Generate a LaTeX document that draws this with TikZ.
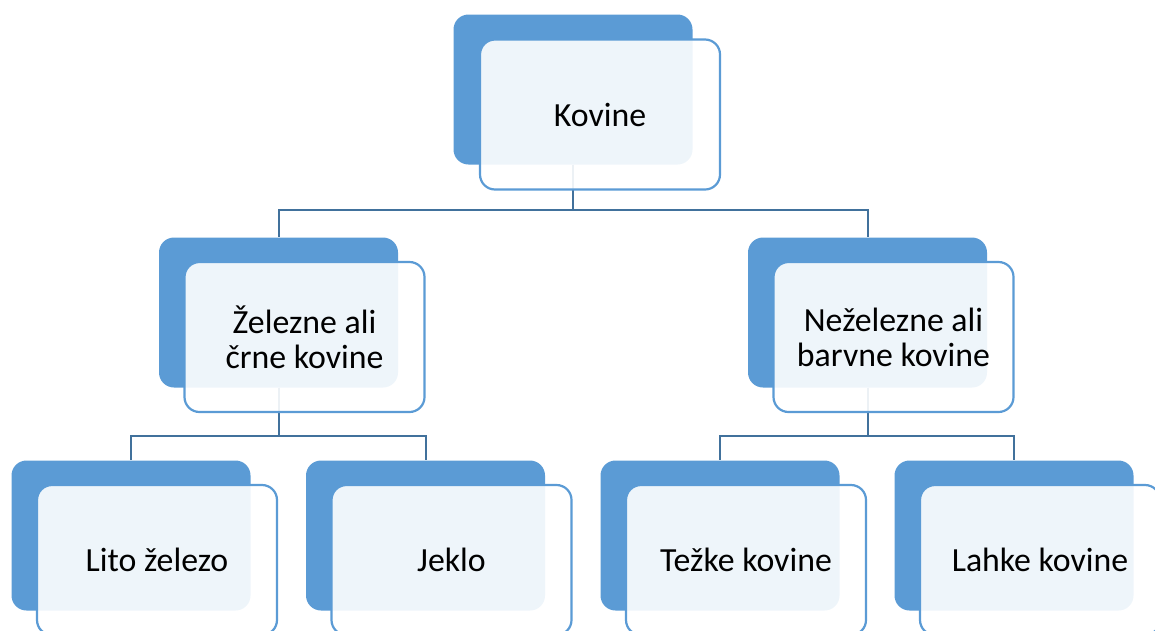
\documentclass[tikz,border=0pt]{standalone}
\usepackage{fontspec}
\setmainfont{Carlito}
\definecolor{boxblue}{HTML}{5B9BD5}
\definecolor{linkblue}{HTML}{41719C}
\begin{document}
\begin{tikzpicture}[x=1pt,y=-1pt,
  backbox/.style={rectangle, rounded corners=15pt, fill=boxblue, draw=none,
    minimum width=239pt, minimum height=150pt, inner sep=0pt},
  frontbox/.style={rectangle, rounded corners=15pt, fill=white, fill opacity=0.9,
    text opacity=1, draw=boxblue, draw opacity=1, line width=2.2pt,
    minimum width=240pt, minimum height=150pt, inner sep=0pt, align=center,
    font=\fontsize{33.8}{35}\selectfont, text=black},
  link/.style={draw=linkblue, line width=2pt}]
\useasboundingbox (0,0) rectangle (1155,630);
\clip (0,0) rectangle (1155,630);
% back boxes
\node[backbox] (kb) at (573,89.5) {};
\node[backbox] (zb) at (278.5,312.5) {};
\node[backbox] (nb) at (867.5,312.5) {};
\node[backbox] (lb) at (131,535.5) {};
\node[backbox] (jb) at (425.5,535.5) {};
\node[backbox] (tb) at (720,535.5) {};
\node[backbox] (hb) at (1014,535.5) {};
% connectors
\draw[link] (kb.south) -- ++(0,45) coordinate (kbus) -| (zb.north);
\draw[link] (kbus) -| (nb.north);
\draw[link] (zb.south) -- ++(0,48) coordinate (zbus) -| (lb.north);
\draw[link] (zbus) -| (jb.north);
\draw[link] (nb.south) -- ++(0,48) coordinate (nbus) -| (tb.north);
\draw[link] (nbus) -| (hb.north);
% front boxes
\node[frontbox] (kf) at (600,114.5) {Kovine};
\node[frontbox] (zf) at (304.5,337) {Železne ali\\črne kovine};
\node[frontbox] (nf) at (893.5,337) {Neželezne ali\\barvne kovine};
\node[frontbox] (lf) at (157,560) {Lito železo};
\node[frontbox] (jf) at (451.5,560) {Jeklo};
\node[frontbox] (tf) at (746,560) {Težke kovine};
\node[frontbox] (hf) at (1040,560) {Lahke kovine};
\end{tikzpicture}
\end{document}
